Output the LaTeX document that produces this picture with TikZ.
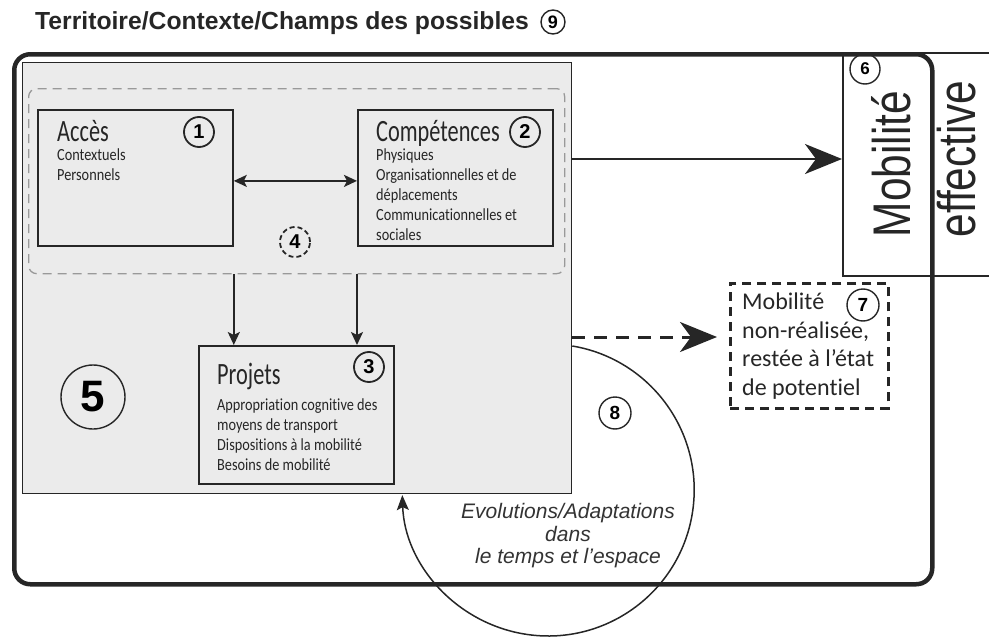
\documentclass[tikz,border=0pt]{standalone}
\usepackage{fontspec}
\setmainfont{Liberation Sans}
\newfontfamily\myriad[Ligatures=NoCommon]{Carlito}
\newfontfamily\myriadcond[FakeStretch=0.72,Ligatures=NoCommon]{Carlito}
\newfontfamily\myriadbody[FakeStretch=0.84,Ligatures=NoCommon]{Carlito}
\newfontfamily\helvnarrow[FakeStretch=0.8]{Liberation Sans}
\usetikzlibrary{arrows.meta}

\begin{document}
\begin{tikzpicture}[x=1pt,y=-1pt,
  box/.style={draw=black!85,line width=1.8pt,inner sep=0pt,anchor=north west},
  num/.style={circle,draw=black!85,line width=1.8pt,inner sep=0pt,minimum size=30pt,
    font=\bfseries\fontsize{20}{20}\selectfont},
  smallnum/.style={num,line width=1.4pt,minimum size=30pt,font=\bfseries\fontsize{17}{17}\selectfont},
  head/.style={anchor=base west,inner sep=0pt,text=black!85,font=\myriadcond\fontsize{31}{31}\selectfont},
  items/.style={anchor=base west,inner sep=0pt,align=left,text=black!85,
    font=\myriadbody\fontsize{17}{20}\selectfont},
  arr/.style={draw=black!85,line width=2pt,-{Stealth[length=13pt,width=12pt,inset=3pt]}},
  bigarr/.style={draw=black!85,line width=2.6pt,-{Stealth[length=37pt,width=30pt,inset=11pt]}},
]
\useasboundingbox (0,0) rectangle (989,637);

%% title
\node[anchor=base west,inner sep=0pt,text=black!85,font=\bfseries\fontsize{24.7}{24.7}\selectfont]
  (title) at (35,30) {Territoire/Contexte/Champs des possibles};
\node[smallnum,minimum size=24pt,font=\bfseries\fontsize{18}{18}\selectfont] (n9) at (553,22) {9};

%% frame and boxes
\node[box,draw=black!85,line width=1.5pt,minimum width=160pt,minimum height=223pt] (effbox) at (842,52) {};
\node[box,line width=4.5pt,rounded corners=16pt,minimum width=918pt,minimum height=530pt] (terr) at (12,52) {};
\node[box,fill=black!8,line width=1.3pt,minimum width=549pt,minimum height=431pt] (ctx) at (22,62) {};
\node[box,draw=black!40,line width=1.3pt,dash pattern=on 9pt off 6pt,rounded corners=8pt,
  minimum width=536pt,minimum height=185pt] (grp) at (28,88) {};
\node[box,minimum width=195pt,minimum height=136pt] (acc) at (37,109) {};
\node[box,minimum width=195pt,minimum height=136pt] (comp) at (357,109) {};
\node[box,minimum width=195pt,minimum height=138pt] (proj) at (198,345) {};
\node[box,line width=2.6pt,dash pattern=on 9pt off 6pt,minimum width=158pt,minimum height=125pt] (nonreal) at (729,282) {};

%% texts (lists are placed by their last line)
\node[head] (acct) at (57,141) {Accès};
\node[items] (accl) at (57,180) {Contextuels\\Personnels};
\node[num] (n1) at (199,132) {1};
\node[head] (compt) at (376,141) {Compétences};
\node[items] (compl) at (376,240) {Physiques\\Organisationnelles et de\\déplacements\\Communicationnelles et\\sociales};
\node[num] (n2) at (525,132) {2};
\node[head] (projt) at (217,384) {Projets};
\node[items] (projl) at (217,470) {Appropriation cognitive des\\moyens de transport\\Dispositions à la mobilité\\Besoins de mobilité};
\node[num] (n3) at (369,367) {3};
\node[num,dashed,dash pattern=on 5pt off 3pt] (n4) at (295,242) {4};
\node[num,line width=1.4pt,minimum size=64pt,font=\bfseries\fontsize{44}{44}\selectfont] (n5) at (93,397) {5};

\node[rotate=90,inner sep=0pt,text=black!85,font=\helvnarrow\fontsize{53}{53}\selectfont] (mob) at (891,164) {Mobilité};
\node[rotate=90,inner sep=0pt,text=black!85,font=\helvnarrow\fontsize{53}{53}\selectfont] (eff) at (957,159) {effective};
\node[smallnum] (n6) at (865,69) {6};

\node[items,font=\myriad\fontsize{24}{28.5}\selectfont] (nrt) at (742,395) {Mobilité\\non-réalisée,\\restée à l’état\\de potentiel};
\node[smallnum,minimum size=32pt,font=\bfseries\fontsize{19}{19}\selectfont] (n7) at (863,305) {7};

\node[smallnum,minimum size=32pt,font=\bfseries\fontsize{19}{19}\selectfont] (n8) at (615,413) {8};
\node[align=center,inner sep=0pt,text=black!80,font=\itshape\fontsize{21}{22.5}\selectfont] (evo) at (568,536)
  {Evolutions/Adaptations\\dans\\le temps et l’espace};

%% arrows
\coordinate (effy) at (0,159);
\coordinate (poty) at (0,337);
\coordinate (loopy) at (0,346);
\draw[arr,{Stealth[length=13pt,width=12pt,inset=3pt]}-{Stealth[length=13pt,width=12pt,inset=3pt]}]
  ([yshift=-3pt]acc.east) -- ([yshift=-3pt]comp.west);
\draw[arr] (acc.east |- grp.south) -- (acc.east |- proj.north);
\draw[arr] (comp.west |- grp.south) -- (comp.west |- proj.north);
\draw[bigarr] (ctx.east |- effy) -- (effbox.west |- effy);
\draw[bigarr,line width=3pt,dash pattern=on 13pt off 9pt,shorten >=12pt] (ctx.east |- poty) -- (nonreal.west |- poty);
\draw[draw=black!85,line width=1.5pt,-{Stealth[length=15pt,width=12pt,inset=3pt]}]
  (ctx.east |- loopy) arc[start angle=-80.5,end angle=178,radius=146];

\end{tikzpicture}
\end{document}
